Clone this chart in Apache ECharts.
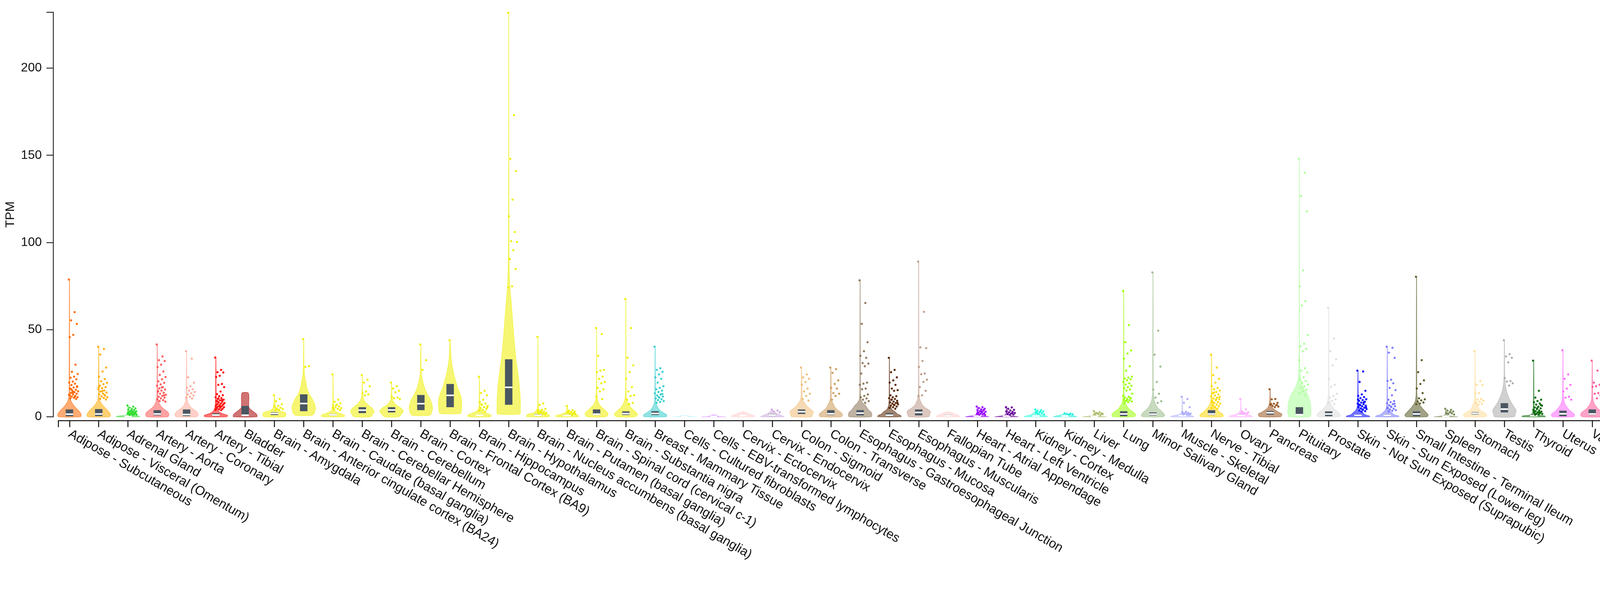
<!DOCTYPE html>
<html>
<head>
<meta charset="utf-8">
<title>TPM by tissue</title>
<script src="https://cdn.jsdelivr.net/npm/echarts@6/dist/echarts.min.js"></script>
<style>
html, body { margin: 0; padding: 0; background: #fff; }
#chart { width: 4324px; height: 1524px; }
</style>
</head>
<body>
<div id="chart"></div>
<script>
// tissues, left to right
var tissues = ['Adipose - Subcutaneous','Adipose - Visceral (Omentum)','Adrenal Gland','Artery - Aorta','Artery - Coronary','Artery - Tibial','Bladder','Brain - Amygdala','Brain - Anterior cingulate cortex (BA24)','Brain - Caudate (basal ganglia)','Brain - Cerebellar Hemisphere','Brain - Cerebellum','Brain - Cortex','Brain - Frontal Cortex (BA9)','Brain - Hippocampus','Brain - Hypothalamus','Brain - Nucleus accumbens (basal ganglia)','Brain - Putamen (basal ganglia)','Brain - Spinal cord (cervical c-1)','Brain - Substantia nigra','Breast - Mammary Tissue','Cells - Cultured fibroblasts','Cells - EBV-transformed lymphocytes','Cervix - Ectocervix','Cervix - Endocervix','Colon - Sigmoid','Colon - Transverse','Esophagus - Gastroesophageal Junction','Esophagus - Mucosa','Esophagus - Muscularis','Fallopian Tube','Heart - Atrial Appendage','Heart - Left Ventricle','Kidney - Cortex','Kidney - Medulla','Liver','Lung','Minor Salivary Gland','Muscle - Skeletal','Nerve - Tibial','Ovary','Pancreas','Pituitary','Prostate','Skin - Not Sun Exposed (Suprapubic)','Skin - Sun Exposed (Lower leg)','Small Intestine - Terminal Ileum','Spleen','Stomach','Testis','Thyroid','Uterus','Vagina','Whole Blood'];

var colors = ['#FF6600','#FFAA00','#33DD33','#FF5555','#FFAA99','#FF0000','#AA0000','#EEEE00','#EEEE00','#EEEE00','#EEEE00','#EEEE00','#EEEE00','#EEEE00','#EEEE00','#EEEE00','#EEEE00','#EEEE00','#EEEE00','#EEEE00','#33CCCC','#AAEEFF','#CC66FF','#FFCCCC','#CCAADD','#EEBB77','#CC9955','#8B7355','#552200','#BB9988','#FFCCCC','#9900FF','#660099','#22FFDD','#22EEDD','#AABB66','#99FF00','#99BB88','#AAAAFF','#FFD700','#FFAAFF','#995522','#AAFF99','#DDDDDD','#0000FF','#7777FF','#555522','#778855','#FFDD99','#AAAAAA','#006600','#FF66FF','#FF5599','#FF00BB'];

// box plot quartiles (TPM)
var q1 =      [0.3,0.4,0.1,0.8,0.4,0.4,0.4,1.0,3.2,0.6,2.1,2.5,3.8,5.5,0.5,6.9,0.5,0.4,1.0,1.0,1.0,0.05,0.1,0.3,0.5,1.6,1.0,0.8,0.3,0.8,0.3,0.2,0.2,0.2,0.2,0.1,0.3,0.8,0.3,1.0,0.4,1.2,0.8,0.3,0.3,0.3,0.3,0.1,1.3,2.5,0.3,0.3,1.0,0.1];
var medians = [1.5,1.6,0.3,1.6,1.3,1.0,0.9,1.9,7.6,1.1,3.8,3.9,7.5,12.3,0.8,16.9,0.9,0.7,1.5,1.8,1.9,0.15,0.3,0.6,1.0,2.9,1.7,2.1,0.9,2.5,0.6,0.4,0.4,0.4,0.4,0.3,1.6,1.5,0.6,1.6,0.8,2.3,1.2,1.6,0.8,0.8,1.6,0.3,2.0,4.4,0.6,1.7,1.6,0.3];
var q3 =      [4.2,4.4,0.6,3.8,4.2,2.0,6.2,2.6,12.9,1.6,5.5,5.5,12.5,18.8,1.2,33,1.5,1.1,4.2,3.1,3.2,0.3,0.5,1.0,1.6,4.2,3.8,3.8,2.1,4.2,1.1,0.8,0.7,0.8,0.7,0.6,3.2,2.5,1.0,3.8,1.3,3.3,5.5,3.1,1.3,1.3,3.1,0.6,2.7,7.8,1.2,3.5,4.2,0.6];

// violin outline: [TPM, relative half width]
var violins = [
  [[0,0.95],[1.5,1],[3,0.85],[4.5,0.65],[5.5,0.5],[7,0.32],[8,0.22],[9.8,0.1],[12,0.05],[20,0.03],[79,0.01]],
  [[0,0.95],[1.5,1],[3,0.85],[4.5,0.65],[5.5,0.5],[7,0.3],[8,0.2],[9.8,0.08],[13,0.04],[40.4,0.01]],
  [[0,1],[0.4,0.9],[0.8,0.3],[1.5,0.08],[3,0.03],[6.5,0.01]],
  [[0,0.9],[1.5,1],[3,0.85],[4.5,0.55],[6,0.32],[8,0.15],[10,0.07],[15,0.03],[41.5,0.01]],
  [[0,0.9],[1.5,1],[3,0.85],[4.5,0.55],[6,0.3],[8,0.14],[10,0.06],[15,0.03],[37.6,0.01]],
  [[0,0.95],[0.8,1],[1.5,0.7],[2.5,0.35],[3.5,0.2],[5,0.1],[8,0.05],[15,0.03],[34,0.01]],
  [[0,1],[1.2,1],[2.5,0.8],[4,0.5],[5.5,0.32],[13.6,0.28]],
  [[0,0.9],[1.5,1],[2.5,0.9],[3.5,0.4],[5,0.12],[8,0.05],[12.3,0.01]],
  [[0.8,0.7],[2,0.9],[4.6,1],[7,0.95],[10,0.75],[13,0.48],[16,0.3],[20,0.18],[24,0.08],[30,0.03],[44.5,0.01]],
  [[0,0.95],[0.8,1],[1.5,0.8],[2.5,0.4],[3.5,0.15],[5,0.06],[8,0.03],[24.3,0.01]],
  [[0,0.7],[1.5,0.9],[3,1],[4.5,0.9],[6,0.65],[7.5,0.38],[9,0.2],[11,0.08],[14,0.03],[23.9,0.01]],
  [[0,0.6],[1.5,0.85],[3.3,1],[5,0.8],[6.5,0.45],[8,0.22],[10,0.08],[13,0.03],[19.6,0.01]],
  [[0.8,0.75],[2,0.9],[4.6,1],[7,0.95],[10,0.8],[13,0.55],[16,0.35],[20,0.18],[24,0.07],[30,0.03],[41.5,0.01]],
  [[1.8,0.85],[3,0.95],[7,1],[11,0.95],[14,0.8],[17,0.62],[20,0.5],[24,0.33],[28.6,0.19],[33,0.1],[37,0.06],[43.6,0.01]],
  [[0,0.95],[0.8,1],[1.5,0.85],[2.5,0.45],[3.5,0.18],[5,0.07],[8,0.03],[23,0.01]],
  [[1.6,0.95],[4,1],[11.5,0.98],[20,0.88],[27,0.75],[33,0.62],[40,0.52],[46,0.44],[55,0.34],[63,0.25],[70,0.16],[75,0.1],[85,0.05],[100,0.03],[150,0.015],[231.8,0.01]],
  [[0,0.95],[0.8,1],[1.5,0.8],[2.5,0.35],[4,0.12],[6,0.05],[10,0.02],[45.8,0.01]],
  [[0,0.95],[0.6,1],[1.2,0.7],[2,0.3],[3,0.1],[6.2,0.01]],
  [[0,0.8],[1.5,1],[3,0.85],[4.5,0.6],[5.5,0.45],[7,0.25],[8,0.17],[10,0.08],[11.5,0.05],[20,0.02],[50.9,0.01]],
  [[0,0.8],[1.5,1],[3,0.8],[4.5,0.55],[5.5,0.4],[7,0.25],[8,0.18],[10,0.09],[12,0.05],[20,0.02],[67.6,0.01]],
  [[0,0.95],[1,1],[2,0.8],[3,0.55],[4,0.38],[5.5,0.22],[7,0.12],[8.5,0.06],[12,0.03],[40.2,0.01]],
  [[0,1],[0.05,0.6],[0.15,0.45],[0.5,0.4],[0.7,0.25],[0.8,0.01]],
  [[0,1],[0.05,0.5],[0.2,0.4],[0.6,0.35],[0.9,0.18],[1.1,0.01]],
  [[0,1],[0.8,0.9],[1.5,0.6],[2.3,0.3],[2.9,0.05]],
  [[0,1],[0.6,0.85],[1.5,0.5],[2.5,0.25],[3.5,0.08],[4.2,0.01]],
  [[0,0.85],[1.5,0.95],[2.9,1],[4.5,0.75],[6,0.48],[7.2,0.35],[8.5,0.2],[9.8,0.1],[12,0.05],[28.2,0.01]],
  [[0,0.9],[1.2,1],[2.5,0.85],[4,0.55],[5.5,0.35],[7.2,0.22],[9,0.1],[11,0.05],[28.2,0.01]],
  [[0,0.95],[1.5,1],[2.5,0.95],[4,0.72],[5.5,0.55],[6.3,0.48],[8,0.22],[10,0.07],[15,0.03],[78.3,0.01]],
  [[0,1],[0.8,0.95],[1.5,0.7],[2.9,0.48],[4,0.25],[5.5,0.12],[7,0.06],[10,0.03],[33.8,0.01]],
  [[0,0.85],[1.5,0.95],[2.9,1],[4,0.85],[5.5,0.5],[6.5,0.35],[8,0.22],[10,0.1],[12,0.05],[20,0.02],[89,0.01]],
  [[0,1],[0.8,0.9],[1.6,0.6],[2.3,0.35],[2.9,0.05]],
  [[0,1],[0.3,0.8],[0.7,0.3],[1.5,0.08],[3,0.03],[5.9,0.01]],
  [[0,1],[0.3,0.7],[0.8,0.25],[1.5,0.08],[3,0.03],[6,0.01]],
  [[0,1],[0.4,0.9],[1,0.5],[2,0.2],[3,0.08],[4.2,0.01]],
  [[0,1],[0.4,0.85],[1,0.4],[1.6,0.12],[2.2,0.01]],
  [[0,1],[0.3,0.6],[0.8,0.2],[1.5,0.06],[3.3,0.01]],
  [[0,0.9],[0.8,1],[1.6,1],[2.5,0.85],[3.8,0.6],[5,0.4],[6.3,0.28],[7.5,0.17],[9,0.1],[11,0.06],[15,0.03],[72.2,0.01]],
  [[0,0.9],[1,1],[1.6,0.95],[3,0.75],[4.6,0.5],[5.5,0.38],[7,0.25],[8.5,0.15],[9.8,0.1],[12,0.06],[15,0.03],[82.8,0.01]],
  [[0,1],[0.5,0.85],[1.2,0.35],[2,0.12],[3,0.05],[5,0.02],[11.5,0.01]],
  [[0,0.95],[1,1],[2,0.85],[3,0.65],[4.6,0.42],[6,0.25],[7.2,0.15],[9,0.08],[12,0.04],[35.6,0.01]],
  [[0,1],[0.6,0.9],[1.3,0.5],[2.2,0.2],[3.5,0.07],[5,0.03],[10.2,0.01]],
  [[0,0.9],[1,1],[1.6,1],[2.5,0.75],[3.8,0.45],[5,0.22],[6.3,0.12],[8,0.06],[10,0.03],[15.8,0.01]],
  [[0,0.9],[1.5,0.98],[3,1],[5,0.98],[8,0.95],[10,0.85],[13.2,0.68],[15,0.5],[17.5,0.3],[20,0.18],[21.8,0.12],[25,0.07],[30,0.04],[45,0.02],[148,0.01]],
  [[0,0.9],[1,1],[2,0.9],[3,0.75],[4.2,0.52],[5.5,0.35],[7,0.2],[8.5,0.12],[10,0.07],[14,0.03],[62.6,0.01]],
  [[0,1],[0.5,0.95],[1.2,0.6],[2.5,0.38],[4,0.15],[6,0.06],[10,0.03],[26.5,0.01]],
  [[0,1],[0.5,0.95],[1.2,0.6],[2.5,0.35],[4,0.15],[6,0.06],[10,0.03],[40.2,0.01]],
  [[0,0.9],[1,1],[2,0.9],[3,0.75],[4.5,0.55],[5.5,0.42],[7,0.25],[8.5,0.14],[10.6,0.07],[15,0.03],[80.3,0.01]],
  [[0,1],[0.3,0.6],[0.8,0.2],[1.5,0.06],[4.6,0.01]],
  [[0,0.9],[1.2,1],[2.5,0.75],[3.8,0.45],[5.5,0.27],[7.2,0.17],[9,0.09],[12,0.04],[38,0.01]],
  [[0,0.85],[2,0.95],[3.8,1],[5.5,0.85],[8,0.6],[10,0.45],[12.3,0.3],[15,0.18],[17.5,0.11],[20,0.06],[25,0.03],[43.9,0.01]],
  [[0,1],[0.5,0.95],[1,0.3],[2,0.12],[4,0.06],[8,0.03],[32.2,0.01]],
  [[0,0.9],[1,1],[2,0.9],[3,0.7],[4.6,0.45],[5.5,0.35],[7,0.2],[8.5,0.12],[10,0.07],[14,0.03],[38.2,0.01]],
  [[0,0.85],[1.2,1],[2.5,0.9],[3.5,0.7],[4.6,0.5],[5.5,0.38],[7,0.22],[8.5,0.12],[11,0.05],[15,0.03],[32.2,0.01]],
  [[0,1],[0.1,0.3],[0.5,0.25],[1.5,0.12],[3,0.05],[5,0.01]]
];

// individual samples drawn as points (TPM)
var outliers = [
  [78.7,60,55.3,53.3,47,45.7,29.9,25.8,24.5,23,22.4,21.5,20.2,19.6,19,18.2,17.5,16.8,16.2,15.5,15,14.6,14.1,13.6,13.2,12.8,12.3,12,11.6,11.2,10.9,10.5,10.2,13.9,12.6,11.4,15.8,17.1,14.3,12.1],
  [40.2,38.9,35.7,28.2,26,23,21.6,20.4,19.5,18.7,17.8,17,16.4,15.8,15.1,14.5,13.9,13.3,12.8,12.2,11.7,11.2,10.8,10.3,9.9,14.8,16.9,12.5],
  [6.5,5.8,5.2,4.8,4.4,4.1,3.8,3.5,3.2,3.0,2.8,2.6,2.4,2.2,2.0,1.9,1.8,1.6,1.5,1.4,1.3,1.2,1.1,1.0,2.5,3.3,1.7,2.1],
  [41.5,34.6,32.5,32,29.9,28.5,26,24,22.8,21.5,20.3,19.5,18.6,17.8,17,16.3,15.6,15,14.4,13.8,13.2,12.6,12,11.5,11,10.5,10,9.5,9,8.7,16.8,14.7,12.3],
  [37.6,33.3,22.6,19.6,17.5,16.6,15.8,15,14.2,13.5,12.8,12.2,11.5,11,10.5],
  [34,26.9,25.6,25.4,23.5,22.8,18.8,18.3,17,14.5,13,12.4,11.8,11.2,10.7,10.2,9.8,9.4,9,8.6,8.2,7.9,7.6,7.3,7,6.7,6.4,6.1,5.8,5.5,5.2,4.9,4.6,4.3,4,3.8,8.8,7.1,6.0,5.0,9.6,10.5],
  [],
  [12.3,10.2,8.9,7.2,6.3,5.8,5.2,4.8,4.4,4.0,3.8],
  [44.5,29,28.6],
  [24.3,9.8,8.6,7.8,7.0,6.5,6.0,5.5,5.0,4.6,4.2,3.8,6.8,5.2],
  [23.9,21.3,19.6,17.5,14.5,13.6,12.8,12.3],
  [19.6,17.5,16.2,14.9,14,11.5,11,10.6,10.2],
  [41.5,32.5,26.9],
  [43.9],
  [23,14.9,13.6,12.3,9.8,8.5,7.6,6.8,6.2,5.6,5.0,4.5,4.0,3.5,3.0,7.2,5.3],
  [231.8,173,148,141,124.6,115,106,100.7,100.3,95.6,90.5,84.7,74.8,74.3],
  [45.8,7.6,6.8,4.6,4.0,3.5,3.0,2.6,2.3,2.0,1.8,1.5,3.2,2.8],
  [6.2,3.8,3.4,3.0,2.7,2.4,2.1,1.8,1.5,1.2,2.9,2.2],
  [50.9,47.5,35,26.9,26.5,25.6,23,21.8,20,19.2,16.6,15.8,14.5,11.5,10.2],
  [67.6,50.9,33.8,29.5,25.6,21.8,17,14.5,12.3,11.9,9.8,8,7.2],
  [40.2,27.8,26.9,25.8,24.3,22.6,21.8,19.6,17.5,16.6,15.8,15,14.2,13.5,12.8,12.2,11.6,11,10.5,10,9.5,9,8.5,8,13.1,11.3],
  [],
  [],
  [],
  [4.2,3.6,3.0,2.6],
  [28.2,24.3,22.6,21.8,20,18.3,16.2,14.5,13.2,11.9,10.2,9.3],
  [28.2,27.3,25.2,20.9,18.8,16.6,16.2,13.6,13.2,11.9,9.8],
  [78.3,65.3,53.3,42.8,37.6,35,33.8,30.8,30.5,29,24.8,19.6,19,18.3,16.2,15.8,12.8,12,11.2,10.5,9.8,9.0,8.0],
  [33.8,26.9,25.6,22.6,20.9,19.6,18.3,16.2,15.3,14.9,12.3,11.8,11.2,10.7,10.2,9.7,9.2,8.7,8.3,7.9,7.5,7.1,6.7,6.3,5.9,5.5,5.1,4.6,9.9,8.0,6.9],
  [89,60.2,39.8,39.4,32,28.6,24.8,24.4,21.3,20,17,14.9,12.3,11.9],
  [],
  [5.9,5.5,5.0,4.6,4.2,3.8,3.5,3.2,2.9,2.6,2.3,2.0,1.8,1.6,1.4,1.2,1.0,3.0,2.4,4.0],
  [5.5,5.4,4.6,4.0,3.6,3.2,2.8,2.5,2.2,1.9,1.6,1.3,1.1,3.0,2.0],
  [4.2,3.8,3.4,3.0,2.6,2.3,2.0,1.7,1.4,3.2,2.8],
  [2.0,1.8,1.6,1.4,1.3],
  [3.3,2.6,2.2,1.9,1.6,1.3,1.1,2.0,1.5],
  [72.2,52.6,42.8,38,36.3,33.3,29,26.5,23,22.5,22,21.5,21,20,19.2,18.5,17.8,17,16.3,15.6,15,13.2,11.5,11,10.6,10.2,9.8,9.5,9.1,8.8,8.4,8,10.8,9.3,12],
  [82.8,49.4,35.6,28.8,20,15.6,13.2,11,8.9,8],
  [11.5,10.2,8,5.5,2.9,2.5,2.2,2.0,1.8,1.6,1.4,1.2],
  [35.6,28.2,23.9,21.8,19.6,17.5,16.6,15.8,15,14.2,13.5,12.8,12.2,11.6,11,10.5,10,9.5,9,8.5,8,7.5,7,6.5,6,5.5,5,4.6,13.9,11.3,9.8,8.2],
  [10.2,4.2,2.9,2.5,2.2,2.0,1.8,1.6],
  [15.8,10.2,10.0,8,7.5,7.0,6.6,6.2,5.8,5.5,7.3,6.8],
  [148,140,126.7,117.8,84,74.8,66.3,63.8,47,41.9,40.5,38.9,37.6,32.5,27.8,26.5,25.5,22.6,21.5,20.5,19.5,18.5,17.5,16.5,15.5,14.5,13.5,12.3],
  [62.6,44.8,37.6,32.9,29.5,21.8,18.3,17.2,13.2,12,11,10,9,8,7.2],
  [26.5,26,20,14.9,12.8,12,11.3,10.7,10.1,9.6,9.1,8.6,8.1,7.6,7.2,6.8,6.4,6.0,5.6,5.2,4.8,4.4,4.0,3.6,3.2,2.9,9.9,8.3,6.6,5.4,4.2,7.0],
  [40.2,39.6,36.8,33.8,21.3,20.6,19.2,16.6,15.3,12.3,9.8,9,8.4,7.8,7.2,6.6,6.1,5.6,5.1,4.6,4.2,3.8,3.4,3.0,7.5,5.9,4.9],
  [80.3,32.5,25.6,20.9,18.8,16.2,13.6,10.6,10,9.4,8.8,8.2,7.6,7.2],
  [4.6,4.0,3.5,3.0,2.6,2.2,1.9,1.6,1.3,2.8,2.0],
  [37.6,20.5,18.3,18.2,13.6,13.2,10.2,9.8,9.2,8.6,8,7.4,7.0],
  [43.9,35.9,34.6,33.8,31.2,22.2,20.5,20.2,19.2,17.9],
  [32.2,14.9,11,9.8,9,8.3,7.6,7,6.4,5.8,5.3,4.8,4.4,4.0,3.6,3.2,2.9,2.6,2.3,2.0,1.8,1.6,1.4,1.2,6.8,5.0,3.4,2.5],
  [38.2,24.3,21.8,18.3,16.2,14.5,11.5,11.0,9.8],
  [32.2,26.5,19.6,18.3,17.5,17.2,13.6,13.2,12.4,10.6],
  [5.0,4.6,4.2,3.8,3.4,3.0,2.7,2.4,2.1,1.8,1.5,1.2,1.0,3.2,2.6,2.0]
];

var yLabels = [0, 50, 100, 150, 200];
var yMax = 232;

var HALF = 0.4;   // violin max half width, in category steps
var BOX = 0.127;  // box half width
var PAD = 0.377;  // outer padding of the x range
var FONT = 'Liberation Sans, Arial, Helvetica, sans-serif';

var chart = echarts.init(document.getElementById('chart'));

var idx = tissues.map(function (t, i) { return i; });

var pointData = [];
outliers.forEach(function (list, i) {
  list.forEach(function (v, k) {
    var jitter = ((k * 0.618034) % 1) * 0.32 - 0.02;
    pointData.push([i + jitter, v, i]);
  });
});

var tickValues = [-PAD].concat(idx, [tissues.length - 1 + PAD]);

var option = {
  animation: false,
  backgroundColor: '#fff',
  textStyle: { fontFamily: FONT },
  grid: { left: 149.5, right: 137, top: 31.6, bottom: 456.5, containLabel: false },
  xAxis: {
    type: 'value',
    min: -PAD,
    max: tissues.length - 1 + PAD,
    offset: 9.5,
    splitLine: { show: false },
    axisLine: { show: true, onZero: false, lineStyle: { color: '#111', width: 2.5 } },
    axisTick: { show: true, length: 17, customValues: tickValues, lineStyle: { color: '#111', width: 2.5 } },
    axisLabel: {
      customValues: idx,
      rotate: -30,
      margin: 32,
      fontSize: 33,
      color: '#111',
      fontFamily: FONT,
      formatter: function (v) { return tissues[Math.round(v)]; }
    }
  },
  yAxis: {
    type: 'value',
    min: 0,
    max: yMax,
    offset: 13.5,
    name: 'TPM',
    nameLocation: 'middle',
    nameGap: 80,
    nameRotate: 90,
    nameTextStyle: { fontSize: 32, color: '#111', fontFamily: FONT },
    splitLine: { show: false },
    axisLine: { show: true, onZero: false, lineStyle: { color: '#333', width: 2.5 } },
    axisTick: { show: true, length: 17, customValues: yLabels.concat([yMax]), lineStyle: { color: '#333', width: 2.5 } },
    axisLabel: { customValues: yLabels, margin: 29, fontSize: 32, color: '#111', fontFamily: FONT }
  },
  series: [
    {
      type: 'custom',
      name: 'violin',
      data: idx.map(function (i) { return [i, q3[i]]; }),
      encode: { x: 0, y: 1 },
      renderItem: function (params, api) {
        var i = api.value(0);
        var prof = violins[i];
        var c = colors[i];
        var pts = [];
        var k;
        for (k = 0; k < prof.length; k++) {
          pts.push(api.coord([i - prof[k][1] * HALF, prof[k][0]]));
        }
        for (k = prof.length - 1; k >= 0; k--) {
          pts.push(api.coord([i + prof[k][1] * HALF, prof[k][0]]));
        }
        var a = api.coord([i - BOX, q3[i]]);
        var b = api.coord([i + BOX, q1[i]]);
        var m = api.coord([i, medians[i]]);
        return {
          type: 'group',
          children: [
            {
              type: 'polygon',
              shape: { points: pts, smooth: 0.25 },
              style: { fill: c, stroke: c, lineWidth: 1.5, opacity: 0.55 }
            },
            {
              type: 'rect',
              shape: { x: a[0], y: a[1], width: b[0] - a[0], height: Math.max(b[1] - a[1], 1) },
              style: { fill: '#4a5661' }
            },
            {
              type: 'line',
              shape: { x1: a[0], y1: m[1], x2: b[0], y2: m[1] },
              style: { stroke: '#fff', lineWidth: 4 }
            }
          ]
        };
      }
    },
    {
      type: 'scatter',
      name: 'samples',
      data: pointData,
      symbol: 'circle',
      symbolSize: 5.5,
      itemStyle: {
        color: function (p) { return colors[p.value[2]]; },
        opacity: 0.95
      }
    }
  ]
};

chart.setOption(option);
</script>
</body>
</html>
